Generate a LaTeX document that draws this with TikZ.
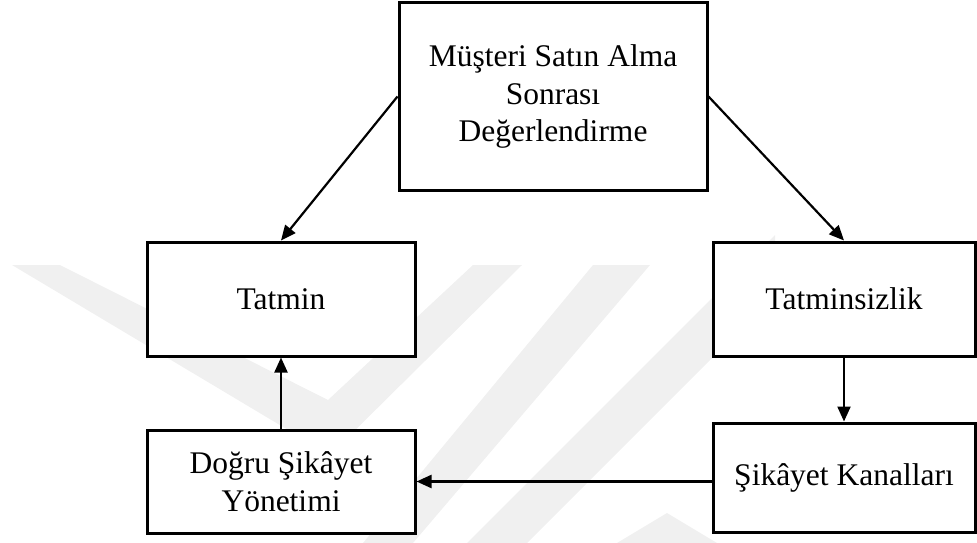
\documentclass[tikz,border=0pt]{standalone}
\usepackage{fontspec}
\setmainfont{Liberation Serif}
\usetikzlibrary{arrows.meta}
\begin{document}
\begin{tikzpicture}[x=1pt,y=-1pt,
  box/.style={draw, line width=3pt, fill=white, align=center, inner sep=0pt,
    font=\fontsize{31.5}{37.5}\selectfont},
  arr/.style={line width=2.2pt, -{Triangle[length=15pt,width=13pt]}},
  wm/.style={fill=black!6, draw=none}]
\useasboundingbox (0,0) rectangle (977,543);
% faint background watermark
\fill[wm] (12,265) -- (60,265) -- (328,400) -- (473,265) -- (522,265) -- (330,455) -- cycle;
\fill[wm] (593,265) -- (650,265) -- (413,543) -- (363,543) -- cycle;
\fill[wm] (775,235) -- (775,295) -- (527,543) -- (467,543) -- cycle;
\fill[wm] (617,543) -- (667,513) -- (717,543) -- cycle;
% boxes
\node[box, minimum width=308pt, minimum height=187pt] (top) at (553,96.5)
  {Müşteri Satın Alma\\Sonrası\\Değerlendirme};
\node[box, minimum width=268pt, minimum height=114pt] (tatmin) at (281,299) {Tatmin};
\node[box, minimum width=262pt, minimum height=114pt] (tatminsiz) at (844,299) {Tatminsizlik};
\node[box, minimum width=268pt, minimum height=103pt] (dogru) at (281,481.5)
  {Doğru Şikâyet\\Yönetimi};
\node[box, minimum width=262pt, minimum height=109pt] (kanal) at (844,477.5) {Şikâyet Kanalları};
% connectors
\draw[arr] (top.west) -- (tatmin.north);
\draw[arr] (top.east) -- (tatminsiz.north);
\draw[arr] (tatminsiz.south) -- (kanal.north);
\draw[arr] (dogru.north) -- (tatmin.south);
\draw[arr] (kanal.west |- dogru.east) -- (dogru.east);
\end{tikzpicture}
\end{document}
